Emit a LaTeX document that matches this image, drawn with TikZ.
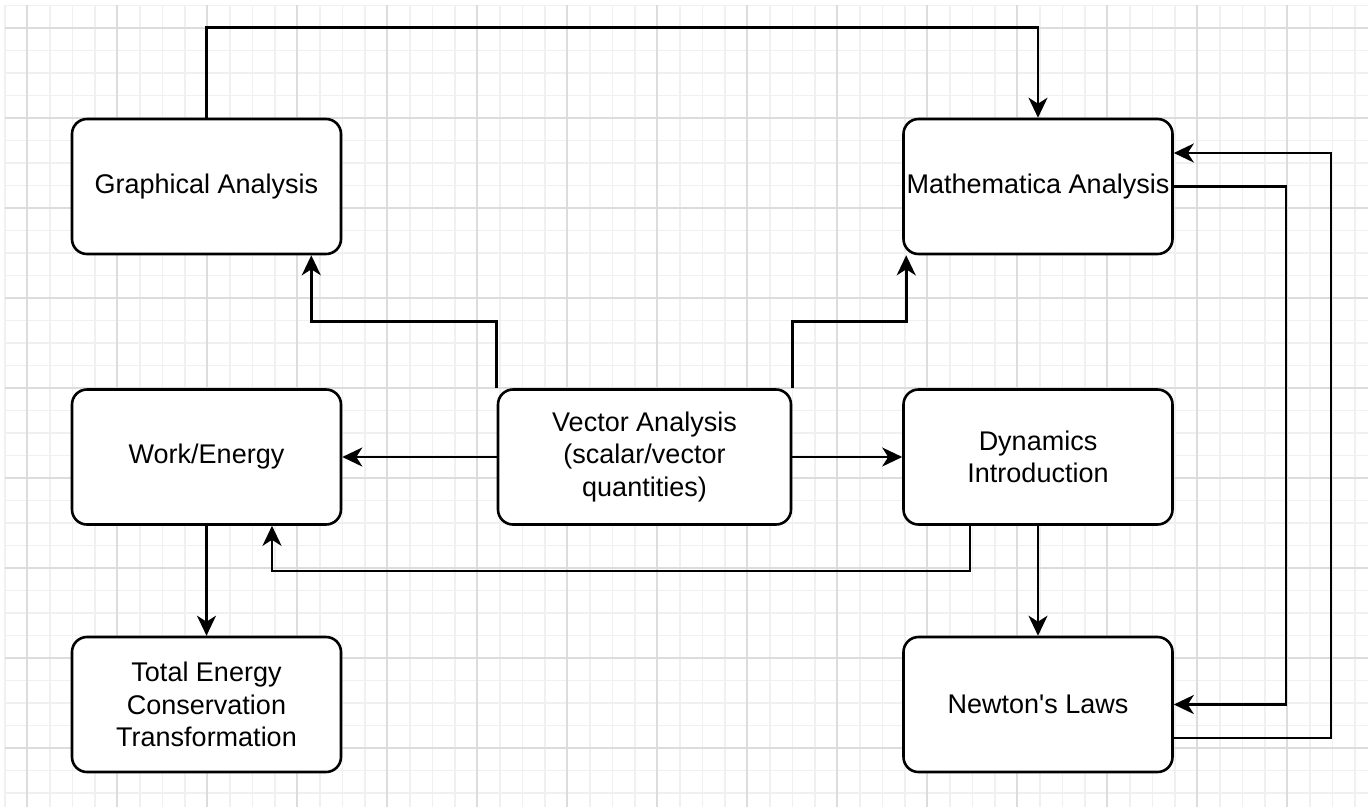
\documentclass[tikz,border=0pt]{standalone}
\usepackage{fontspec}
\setmainfont[Ligatures=TeXOff]{Liberation Sans}
\usetikzlibrary{arrows.meta}
\definecolor{minorgrid}{HTML}{F0F0F0}
\definecolor{majorgrid}{HTML}{DCDCDC}
\begin{document}
\begin{tikzpicture}[x=1pt,y=-1pt,
  box/.style={draw=black, line width=2.6pt, rounded corners=15pt, fill=white,
    minimum width=269pt, minimum height=135pt, align=center, inner sep=0pt,
    font=\fontsize{27}{32.5}\selectfont},
  conn/.style={draw=black, line width=2.6pt,
    -{Stealth[length=20pt,width=19pt,inset=6pt]}},
  minorline/.style={draw=minorgrid, line width=1.5pt},
  majorline/.style={draw=majorgrid, line width=1.5pt}]
\useasboundingbox (0,0) rectangle (1368,807);
\fill[white] (0,0) rectangle (1368,807);
% grid
\foreach \i in {0,...,60} {\draw[minorline] (5+22.5*\i,5) -- (5+22.5*\i,807);}
\foreach \j in {0,...,35} {\draw[minorline] (5,5.5+22.5*\j) -- (1368,5.5+22.5*\j);}
\foreach \i in {0,...,14} {\draw[majorline] (27+90*\i,5) -- (27+90*\i,807);}
\foreach \j in {0,...,8} {\draw[majorline] (5,28+90*\j) -- (1368,28+90*\j);}
% nodes
\node[box] (ga) at (206.5,186.5) {Graphical Analysis};
\node[box] (ma) at (1038,186.5) {Mathematica Analysis};
\node[box] (we) at (206.5,457) {Work/Energy};
\node[box, minimum width=293pt] (va) at (644.5,457) {Vector Analysis\\(scalar/vector\\quantities)};
\node[box] (di) at (1038,457) {Dynamics\\Introduction};
\node[box] (te) at (206.5,704.5) {Total Energy\\Conservation\\Transformation};
\node[box] (nl) at (1038,704.5) {Newton's Laws};
% connectors
\draw[conn] (ga.north) -- ++(0,-90) -| (ma.north);
\draw[conn] (va.north west) -- ++(0,-67) -| ([xshift=-31pt]ga.south east);
\draw[conn] (va.north east) -- ++(0,-67) -| ([xshift=4pt]ma.south west);
\draw[conn] (va.west) -- (we.east);
\draw[conn] (va.east) -- (di.west);
\draw[conn] ([xshift=-68pt]di.south) -- ++(0,45) -| ([xshift=65.5pt]we.south);
\draw[conn] (di.south) -- (nl.north);
\draw[conn] (we.south) -- (te.north);
\draw[conn] (ma.east) -- ++(112,0) |- (nl.east);
\draw[conn] ([yshift=-33.5pt]nl.east) -- ++(157,0) |- ([yshift=33.5pt]ma.east);
\end{tikzpicture}
\end{document}
